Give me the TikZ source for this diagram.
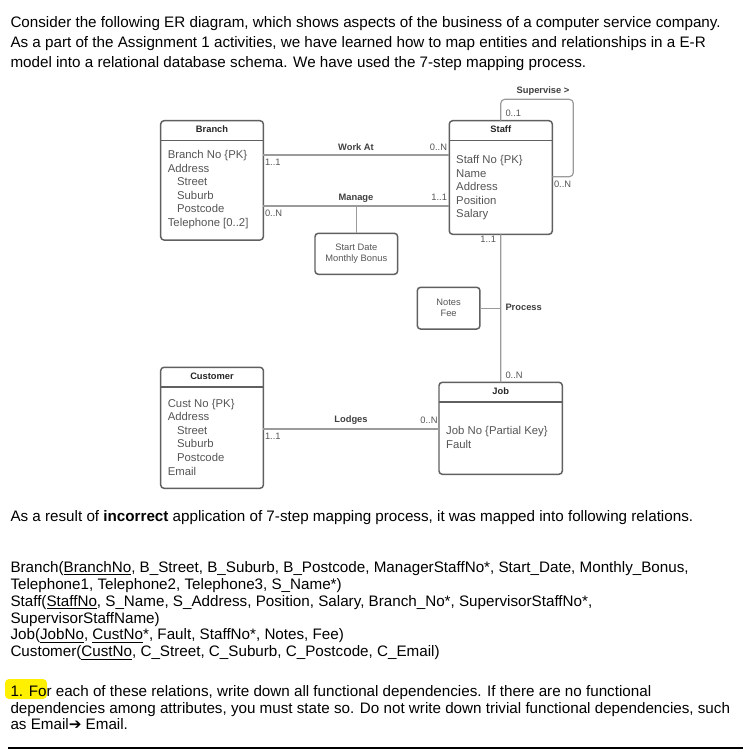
\documentclass[tikz,border=0pt]{standalone}
\usepackage{fontspec}
\setmainfont{Liberation Sans}
\newfontfamily\symfont{DejaVu Sans}
\usetikzlibrary{calc}

\definecolor{boxgrey}{RGB}{96,96,96}
\definecolor{linegrey}{RGB}{155,155,155}
\definecolor{txtgrey}{RGB}{85,85,85}
\definecolor{markyellow}{RGB}{255,240,0}

\tikzset{every picture/.style={line width=0.75pt}}
\tikzset{
  entity/.style={draw=boxgrey, line width=1.1pt, rounded corners=2.5pt, inner sep=0pt, outer sep=0pt, anchor=north west},
  attrbox/.style={entity, align=center, text=txtgrey, font=\fontsize{7}{8.25}\selectfont},
  headline/.style={draw=boxgrey, line width=1.1pt},
  title/.style={font=\fontsize{7}{8}\selectfont\bfseries, text=black!85, inner sep=0pt, anchor=base},
  attr/.style={font=\fontsize{8.5}{10.2}\selectfont, text=txtgrey, align=left, anchor=north west, inner sep=0pt},
  rel/.style={font=\fontsize{7}{8}\selectfont\bfseries, text=black!75, inner sep=0pt},
  card/.style={font=\fontsize{7}{8}\selectfont, text=txtgrey, inner sep=0pt},
  conn/.style={draw=linegrey, line width=0.9pt},
  para/.style={align=left, anchor=north west, inner sep=0pt}
}

\begin{document}
\begin{tikzpicture}[x=0.75pt,y=0.75pt,yscale=-1,xscale=1]
\useasboundingbox (0,0) rectangle (743,750);
\fill[white] (0,0) rectangle (743,750);

% Text Node
\node[para, font=\fontsize{11.4}{15}\selectfont] (intro) at (10,16) {Consider the following ER diagram, which shows aspects of the business of a computer service company.\\
As a part of the Assignment 1 activities, we have learned how to map entities and relationships in a E-R\\
model into a relational database schema. We have used the 7-step mapping process.};

%Shape: Entity Branch
\node[entity, minimum width=77pt, minimum height=89.5pt] (branch) at (160.7,120.7) {};
\draw[headline] ([yshift=14.7pt]branch.north west) -- ([yshift=14.7pt]branch.north east);
\node[title] (branchtitle) at ([yshift=9pt]branch.north) {Branch};
\node[attr] (branchattr) at (167.3,149.7) {Branch No \{PK\}\\Address\\\hspace*{7pt}Street\\\hspace*{7pt}Suburb\\\hspace*{7pt}Postcode\\Telephone [0..2]};

%Shape: Entity Staff
\node[entity, minimum width=77.25pt, minimum height=85.2pt] (staff) at (449.3,120.7) {};
\draw[headline] ([yshift=14.7pt]staff.north west) -- ([yshift=14.7pt]staff.north east);
\node[title] (stafftitle) at ([yshift=9pt]staff.north) {Staff};
\node[attr] (staffattr) at (455.7,154.7) {Staff No \{PK\}\\Name\\Address\\Position\\Salary};

%Shape: Entity Customer
\node[entity, minimum width=77pt, minimum height=90.75pt] (customer) at (160.7,367.3) {};
\draw[headline] ([yshift=14.7pt]customer.north west) -- ([yshift=14.7pt]customer.north east);
\node[title] (customertitle) at ([yshift=9pt]customer.north) {Customer};
\node[attr] (customerattr) at (167.3,398.4) {Cust No \{PK\}\\Address\\\hspace*{7pt}Street\\\hspace*{7pt}Suburb\\\hspace*{7pt}Postcode\\Email};

%Shape: Entity Job
\node[entity, minimum width=92.5pt, minimum height=69pt] (job) at (439,382.3) {};
\draw[headline] ([yshift=14.7pt]job.north west) -- ([yshift=14.7pt]job.north east);
\node[title] (jobtitle) at ([yshift=9pt]job.north) {Job};
\node[attr] (jobattr) at (445.7,425.7) {Job No \{Partial Key\}\\Fault};

%Shape: Relationship attributes
\node[attrbox, minimum width=62pt, minimum height=30.75pt] (startdate) at (315,233.3) {Start Date\\Monthly Bonus};
\node[attrbox, minimum width=47pt, minimum height=31.3pt] (notes) at (417.3,287.3) {Notes\\Fee};

%Straight Lines: Work At
\coordinate (workat) at (0,155);
\draw[conn] (branch.east |- workat) -- (staff.west |- workat);
\node[rel, anchor=base] (workatlbl) at (356,150) {Work At};
\node[card, anchor=base west] (workatb) at (264.5,165.3) {1..1};
\node[card, anchor=base east] (workats) at (447.5,150.3) {0..N};

%Straight Lines: Manage
\coordinate (manage) at (0,206);
\draw[conn] (branch.east |- manage) -- (staff.west |- manage);
\draw[conn] (startdate.north) -- (startdate.north |- manage);
\node[rel, anchor=base] (managelbl) at (356,200.3) {Manage};
\node[card, anchor=base west] (manageb) at (264.5,216.3) {0..N};
\node[card, anchor=base east] (manages) at (447.5,200.3) {1..1};

%Straight Lines: Supervise
\coordinate (suptop) at (573.3,99.3);
\coordinate (supbot) at (573.3,176.7);
\draw[conn, rounded corners=3pt] (staff.north) |- (suptop) |- (staff.east |- supbot);
\node[rel, anchor=base] (supervlbl) at (543,93.3) {Supervise >};
\node[card, anchor=base west] (supervtop) at (505,116.3) {0..1};
\node[card, anchor=base west] (supervbot) at (553.5,187.3) {0..N};

%Straight Lines: Process
\draw[conn] (staff.south) -- (job.north);
\draw[conn] (notes.east) -- (notes.east -| job.north);
\node[rel, anchor=base west] (processlbl) at (505,310.3) {Process};
\node[card, anchor=base east] (processs) at (496.5,242.3) {1..1};
\node[card, anchor=base west] (processj) at (505,378.3) {0..N};

%Straight Lines: Lodges
\coordinate (lodges) at (0,429);
\draw[conn] (customer.east |- lodges) -- (job.west |- lodges);
\node[rel, anchor=base] (lodgeslbl) at (351,422.3) {Lodges};
\node[card, anchor=base west] (lodgesc) at (264.5,439) {1..1};
\node[card, anchor=base east] (lodgesj) at (438,423.3) {0..N};

% Text Node
\node[para, font=\fontsize{11.4}{12.65}\selectfont] (result) at (10,510) {As a result of \textbf{incorrect} application of 7-step mapping process, it was mapped into following relations.};

% Text Node
\node[para, font=\fontsize{11.4}{12.65}\selectfont] (relations) at (10,561) {Branch(\underline{BranchNo}, B\_Street, B\_Suburb, B\_Postcode, ManagerStaffNo*, Start\_Date, Monthly\_Bonus,\\
Telephone1, Telephone2, Telephone3, S\_Name*)\\
Staff(\underline{StaffNo}, S\_Name, S\_Address, Position, Salary, Branch\_No*, SupervisorStaffNo*,\\
SupervisorStaffName)\\
Job(\underline{JobNo}, \underline{CustNo}*, Fault, StaffNo*, Notes, Fee)\\
Customer(\underline{CustNo}, C\_Street, C\_Suburb, C\_Postcode, C\_Email)};

%Shape: Highlight
\fill[markyellow, rounded corners=3pt] (5,679) rectangle (47,699);

% Text Node
\node[para, font=\fontsize{11.4}{12.5}\selectfont] (question) at (10,685) {1. For each of these relations, write down all functional dependencies. If there are no functional\\
dependencies among attributes, you must state so. Do not write down trivial functional dependencies, such\\
as Email{\symfont ➔} Email.};

%Straight Lines: bottom rule
\coordinate (ruleleft) at (8,748);
\coordinate (ruleright) at (743,748);
\draw[line width=1.1pt] (ruleleft) -- (ruleright);

\end{tikzpicture}
\end{document}
